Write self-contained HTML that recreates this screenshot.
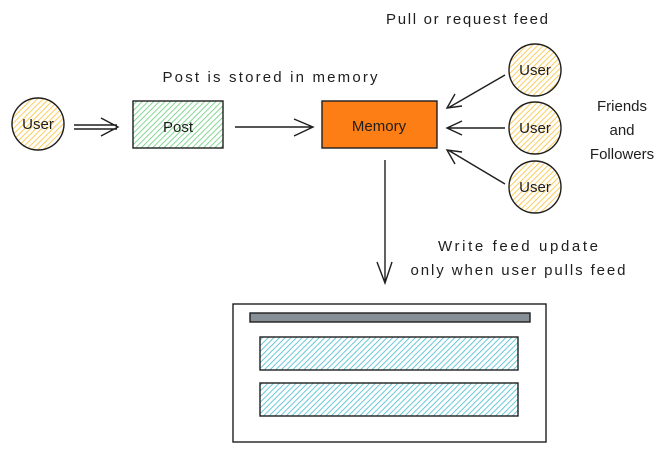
<!DOCTYPE html>
<html><head><style>body{margin:0;background:#fff}svg{display:block}text{font-family:"Liberation Sans",sans-serif;font-size:15px;fill:#1e1e1e}</style></head><body>
<svg width="669" height="452" viewBox="0 0 669 452">
<defs>
<pattern id="y" width="4" height="4" patternUnits="userSpaceOnUse" patternTransform="rotate(45)"><rect width="4" height="4" fill="#fff"/><line x1="0" y1="0" x2="0" y2="4" stroke="#fab005" stroke-width="1.6" opacity=".8"/></pattern>
<pattern id="g" width="4" height="4" patternUnits="userSpaceOnUse" patternTransform="rotate(45)"><rect width="4" height="4" fill="#fff"/><line x1="0" y1="0" x2="0" y2="4" stroke="#40c057" stroke-width="1.6" opacity=".8"/></pattern>
<pattern id="c" width="4" height="4" patternUnits="userSpaceOnUse" patternTransform="rotate(45)"><rect width="4" height="4" fill="#fff"/><line x1="0" y1="0" x2="0" y2="4" stroke="#15aabf" stroke-width="1.6" opacity=".8"/></pattern>
</defs>
<g stroke="#1e1e1e" stroke-width="1.4" fill="none">
<circle cx="38" cy="124" r="26" fill="url(#y)"/>
<rect x="133" y="101" width="90" height="47" fill="url(#g)"/>
<rect x="322" y="101" width="115" height="47" fill="#fd7e14"/>
<circle cx="535" cy="70" r="26" fill="url(#y)"/>
<circle cx="535" cy="128" r="26" fill="url(#y)"/>
<circle cx="535" cy="187" r="26" fill="url(#y)"/>
<path d="M74 125H117M74 129H117M101 118L118 127L101 136"/>
<path d="M235 127H312M294 119L313 127L294 136"/>
<path d="M505 75L448 108M455 94L447 108L462 106"/>
<path d="M505 128H448M462 121L447 128L462 135"/>
<path d="M505 184L448 150M462 152L447 150L455 164"/>
<path d="M385 160V282M377 262L385 283L392 262"/>
<rect x="233" y="304" width="313" height="138"/>
<rect x="250" y="313" width="280" height="9" fill="#868e96"/>
<rect x="260" y="337" width="258" height="33" fill="url(#c)"/>
<rect x="260" y="383" width="258" height="33" fill="url(#c)"/>
</g>
<g text-anchor="middle">
<text x="38" y="129">User</text>
<text x="178" y="132">Post</text>
<text x="379" y="131">Memory</text>
<text x="535" y="75">User</text>
<text x="535" y="133">User</text>
<text x="535" y="192">User</text>
<text x="467" y="24" textLength="162">Pull or request feed</text>
<text x="270" y="82" textLength="215">Post is stored in memory</text>
<text x="622" y="111">Friends</text>
<text x="622" y="135">and</text>
<text x="622" y="159">Followers</text>
<text x="518" y="251" textLength="160">Write feed update</text>
<text x="518" y="275" textLength="215">only when user pulls feed</text>
</g>
</svg>
</body></html>
